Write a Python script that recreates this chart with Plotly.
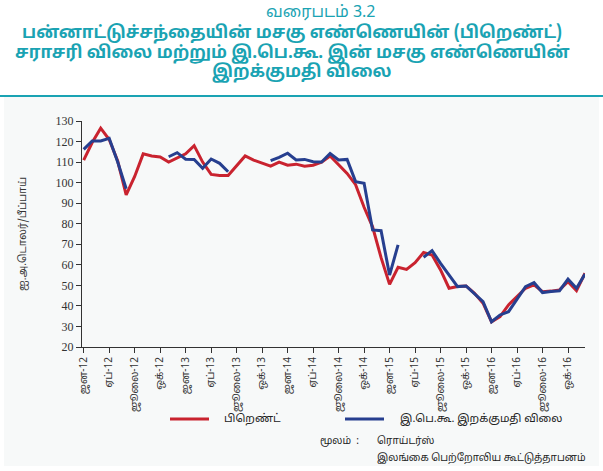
import plotly.graph_objects as go

# ---------------- data ----------------
years = [2012, 2013, 2014, 2015, 2016]
months = [f"{y}-{m:02d}" for y in years for m in range(1, 13)]

tick_months = [f"{y}-{m:02d}" for y in years for m in (1, 4, 7, 10)]
tick_labels = [f"{a}-{str(y)[2:]}" for y in years for a in ("ஜன", "ஏப்", "ஜூலை", "ஒக்")]

# Brent average price (US$/barrel)
brent = [
    111.0, 119.5, 126.5, 121.0, 110.5, 94.0, 103.0, 114.0, 113.0, 112.5, 110.0, 112.0,
    114.0, 118.0, 110.0, 104.0, 103.5, 103.5, 108.5, 113.0, 111.0, 109.5, 108.0, 110.0,
    108.5, 109.0, 108.0, 108.5, 110.0, 113.0, 109.0, 104.5, 99.0, 88.0, 78.5, 63.5,
    50.5, 58.8, 57.8, 61.0, 66.0, 64.8, 57.5, 48.6, 49.4, 49.7, 46.1, 41.3,
    32.3, 34.8, 40.5, 44.6, 48.6, 50.2, 46.9, 47.2, 47.8, 51.8, 47.4, 55.9,
]

# CPC crude oil import price (US$/barrel); None = no import
cpc = [
    116.2, 120.3, 120.3, 121.6, 110.0, 97.0, None, None, None, None, 112.6, 114.6,
    111.4, 111.3, 107.0, 111.5, 109.4, 105.3, None, None, None, None, 110.7, 112.3,
    114.3, 111.0, 111.3, 110.2, 110.0, 114.2, 111.0, 111.3, 100.5, 99.7, 77.0, 76.6,
    55.0, 69.7, None, None, 63.7, 66.9, 60.7, 55.0, 49.4, 49.7, 46.0, 42.1,
    32.3, 35.6, 37.2, 43.3, 49.4, 51.3, 46.5, 47.0, 47.4, 53.0, 48.6, 55.5,
]

series_names = ["பிறெண்ட்", "இ.பெ.கூ. இறக்குமதி விலை"]
y_ticks = list(range(20, 131, 10))

title_lines = [
    "பன்னாட்டுச்சந்தையின் மசகு எண்ணெயின் (பிறெண்ட்)",
    "சராசரி விலை மற்றும் இ.பெ.கூ. இன் மசகு எண்ணெயின்",
    "இறக்குமதி விலை",
]

# ---------------- figure ----------------
TAMIL = "Noto Sans Tamil, Latha, Vijaya, Noto Sans, Arial, sans-serif"
SERIF = "Liberation Serif, Times New Roman, serif"
TEAL = "#1aa3b3"
RED = "#c9232f"
BLUE = "#263f8f"
colors = [RED, BLUE]

fig = go.Figure()
for name, vals, col in zip(series_names, [brent, cpc], colors):
    fig.add_trace(go.Scatter(x=months, y=vals, mode="lines", name=name,
                             line=dict(color=col, width=3), connectgaps=False,
                             showlegend=False))

W, H = 603, 471
L, R, T, B = 82, 18, 121, 124
pw, ph = W - L - R, H - T - B


def px(X):
    return (X - L) / pw


def py(Y):
    return (H - B - Y) / ph


fig.update_layout(
    width=W, height=H,
    margin=dict(l=L, r=R, t=T, b=B, autoexpand=False),
    paper_bgcolor="#ffffff",
    plot_bgcolor="rgba(0,0,0,0)",
    xaxis=dict(type="category", categoryorder="array", categoryarray=months,
               range=[-0.2, 59], tickmode="array", tickvals=tick_months, ticktext=tick_labels,
               tickangle=-90, ticks="outside", ticklen=5, tickcolor="#333", automargin=False,
               showline=True, linecolor="#333", linewidth=1, showgrid=False, zeroline=False,
               tickfont=dict(family=TAMIL, size=10, color="#333")),
    yaxis=dict(range=[20, 130], tickvals=y_ticks, ticks="outside", ticklen=5, tickcolor="#333",
               showline=True, linecolor="#333", linewidth=1, showgrid=False, zeroline=False,
               automargin=False,
               tickfont=dict(family=SERIF, size=12, color="#333"),
               title=dict(text="ஐ.அ.டொலர்/பீப்பாய்", standoff=26,
                          font=dict(family=TAMIL, size=10.5, color="#333"))),
)

# light background panel below title rule
fig.add_shape(type="rect", xref="paper", yref="paper", x0=px(4), x1=px(599), y0=py(466), y1=py(97),
              fillcolor="#f7f9f9", line=dict(width=0), layer="below")
# teal rule under title
fig.add_shape(type="line", xref="paper", yref="paper", x0=px(0), x1=px(603), y0=py(96), y1=py(96),
              line=dict(color=TEAL, width=2))

# legend (drawn manually to match the reference spacing)
legend_pos = [(170, 222), (345, 398)]
for (lx, tx), name, col in zip(legend_pos, series_names, colors):
    fig.add_shape(type="line", xref="paper", yref="paper", x0=px(lx), x1=px(lx + 39),
                  y0=py(419), y1=py(419), line=dict(color=col, width=3))
    fig.add_annotation(text=name, xref="paper", yref="paper", x=px(tx), y=py(419),
                       showarrow=False, xanchor="left", yanchor="middle",
                       font=dict(family=TAMIL, size=11, color="#222"))

fig.add_annotation(text="வரைபடம் 3.2", xref="paper", yref="paper", x=px(321), y=py(13),
                   showarrow=False, xanchor="center", yanchor="middle",
                   font=dict(family=TAMIL, size=16, color=TEAL))
title_x = [292, 292, 302]
for i, line in enumerate(title_lines):
    fig.add_annotation(text=f"<b>{line}</b>", xref="paper", yref="paper", x=px(title_x[i]), y=py(34 + 19.5 * i),
                       showarrow=False, xanchor="center", yanchor="middle",
                       font=dict(family=TAMIL, size=17, color=TEAL))

fig.add_annotation(text="மூலம்  :", xref="paper", yref="paper", x=px(318), y=py(441),
                   showarrow=False, xanchor="left", yanchor="middle",
                   font=dict(family=TAMIL, size=10, color="#222"))
fig.add_annotation(text="ரொய்டர்ஸ்", xref="paper", yref="paper", x=px(375), y=py(441),
                   showarrow=False, xanchor="left", yanchor="middle",
                   font=dict(family=TAMIL, size=10, color="#222"))
fig.add_annotation(text="இலங்கை பெற்றோலிய கூட்டுத்தாபனம்", xref="paper", yref="paper", x=px(375), y=py(458),
                   showarrow=False, xanchor="left", yanchor="middle",
                   font=dict(family=TAMIL, size=10, color="#222"))

fig.write_html("out.html", config={"displayModeBar": False},
               post_script="document.body.style.margin='0px';document.body.style.overflow='hidden';")
